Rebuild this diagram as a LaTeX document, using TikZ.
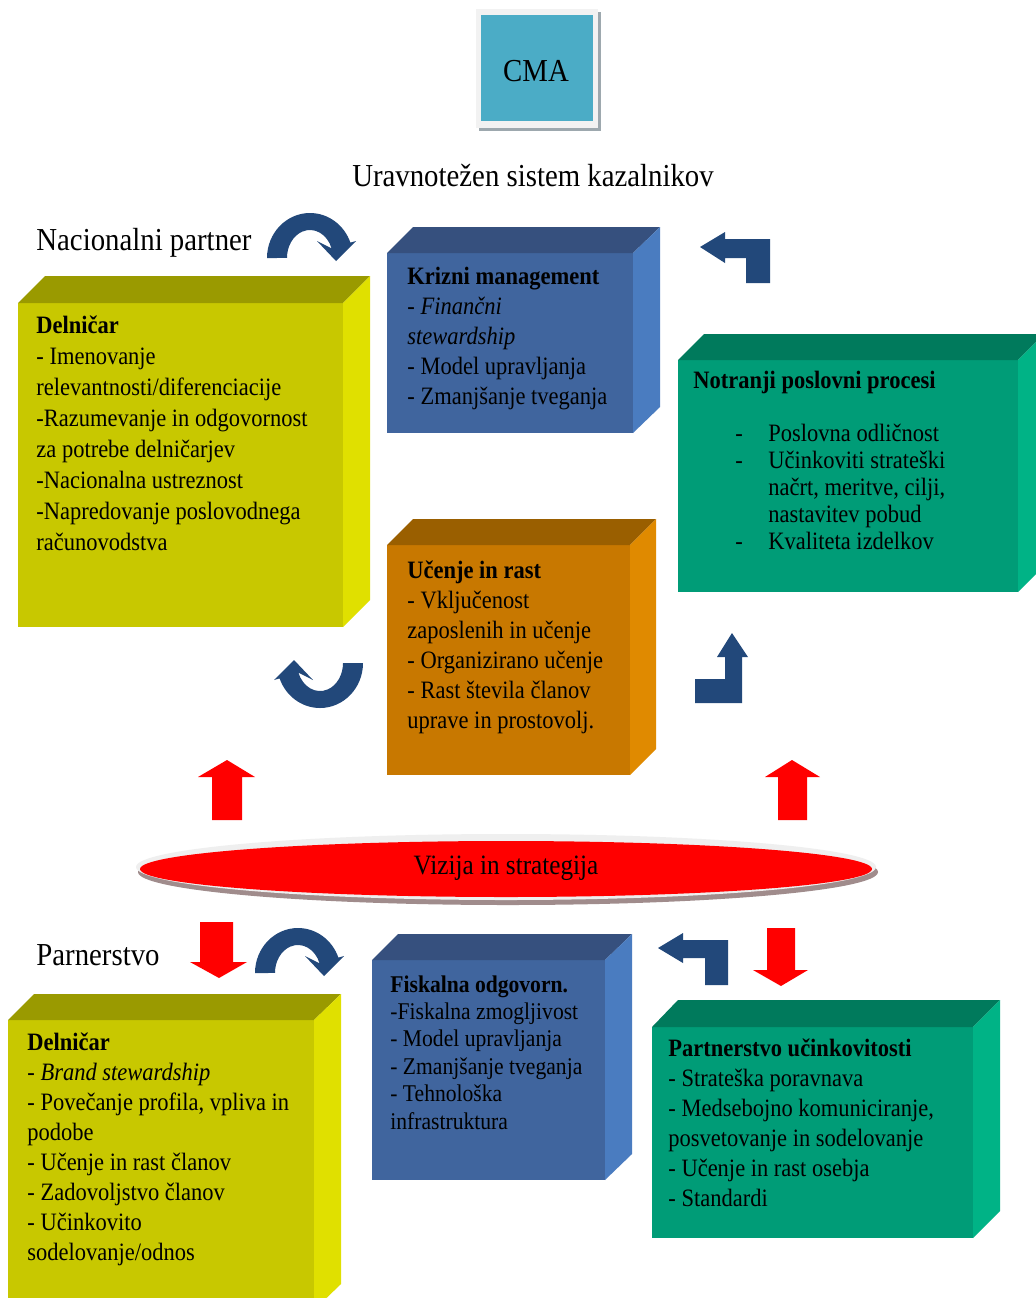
\documentclass[tikz,border=0pt]{standalone}
\usepackage{fontspec}
\setmainfont{Liberation Serif}[FakeStretch=0.9]
\usepackage{xcolor}

\definecolor{yfront}{HTML}{C8C800}
\definecolor{ytop}{HTML}{9A9A00}
\definecolor{yside}{HTML}{E0E000}
\definecolor{bfront}{HTML}{40659E}
\definecolor{btop}{HTML}{36507E}
\definecolor{bside}{HTML}{4A7CC0}
\definecolor{gfront}{HTML}{009C77}
\definecolor{gtop}{HTML}{007A5C}
\definecolor{gside}{HTML}{00B386}
\definecolor{ofront}{HTML}{C87800}
\definecolor{otop}{HTML}{9A5F00}
\definecolor{oside}{HTML}{E08A00}
\definecolor{cmablue}{HTML}{4BACC6}
\definecolor{cmaframe}{HTML}{F2F2F2}
\definecolor{cmashadow}{HTML}{9DA8AE}
\definecolor{visionred}{HTML}{FF0000}
\definecolor{ovalrim}{HTML}{EFEFEF}
\definecolor{ovalshadow}{HTML}{A08C8C}
\definecolor{arrowblue}{HTML}{22487A}

\tikzset{
  uturn/.pic={
    \fill[arrowblue] (-43,0) arc[start angle=180, end angle=340, x radius=43, y radius=45]
      -- (46,-17) -- (26,3) -- (7,-17) -- (21.6,-9.6)
      arc[start angle=340, end angle=180, x radius=23, y radius=28] -- cycle;
  }
}

\begin{document}
\begin{tikzpicture}[x=0.5pt,y=-0.5pt,
    boxtext/.style={anchor=north west, inner sep=0pt, align=left,
      font=\fontsize{12.5}{15.5}\selectfont},
    sidetext/.style={inner sep=0pt, font=\fontsize{16}{19}\selectfont},
    redarrow/.style={fill=visionred}]
        \useasboundingbox (0,0) rectangle (1036,1298);
        \clip (0,0) rectangle (1036,1298);
        \fill[white] (0,0) rectangle (1036,1298);

        % CMA
        \fill[cmashadow] (479,12) rectangle (601,131);
        \fill[cmaframe] (476,9) rectangle (598,128);
        \fill[cmablue] (481,15) rectangle (593,121);
        \node[sidetext] (cma) at (536,71) {CMA};

        % Title
        \node[sidetext] (scorecard) at (533,176) {Uravnotežen sistem kazalnikov};

        % Nacionalni partner
        \node[sidetext, anchor=west] (national) at (36,243) {Nacionalni partner};
        \pic at (310,258) {uturn};

        % Delnicar (top)
        \fill[yfront] (18,303) rectangle (343,627);
        \fill[ytop] (18,303) -- (45,276) -- (370,276) -- (343,303) -- cycle;
        \fill[yside] (343,303) -- (370,276) -- (370,600) -- (343,627) -- cycle;
        \node[boxtext] (holdertop) at (36,315) {\textbf{Delničar}\\- Imenovanje\\relevantnosti/diferenciacije\\-Razumevanje in odgovornost\\za potrebe delničarjev\\-Nacionalna ustreznost\\-Napredovanje poslovodnega\\računovodstva};

        % Krizni management
        \fill[bfront] (387,253) rectangle (633,433);
        \fill[btop] (387,253) -- (413,227) -- (660,227) -- (633,253) -- cycle;
        \fill[bside] (633,253) -- (660,227) -- (660,407) -- (633,433) -- cycle;
        \node[boxtext, font=\fontsize{12.5}{15}\selectfont] (crisis) at (407,267) {\textbf{Krizni management}\\- \textit{Finančni}\\\textit{stewardship}\\- Model upravljanja\\- Zmanjšanje tveganja};

        % Bent arrow (top right)
        \fill[arrowblue] (700,247) -- (725,232) -- (725,239) -- (770,239) -- (770,283)
          -- (746,283) -- (746,258) -- (725,258) -- (725,263) -- cycle;

        % Notranji poslovni procesi
        \fill[gfront] (678,360) rectangle (1018,592);
        \fill[gtop] (678,360) -- (704,334) -- (1044,334) -- (1018,360) -- cycle;
        \fill[gside] (1018,360) -- (1044,334) -- (1044,566) -- (1018,592) -- cycle;
        \node[boxtext] (internal) at (693,371) {\textbf{Notranji poslovni procesi}};
        \node[boxtext, font=\fontsize{12.5}{13.5}\selectfont] (internallist) at (735,424)
          {\makebox[16.5pt][l]{-}Poslovna odličnost\\\makebox[16.5pt][l]{-}Učinkoviti strateški\\\hspace*{16.5pt}načrt, meritve, cilji,\\\hspace*{16.5pt}nastavitev pobud\\\makebox[16.5pt][l]{-}Kvaliteta izdelkov};

        % Ucenje in rast
        \fill[ofront] (387,545) rectangle (630,775);
        \fill[otop] (387,545) -- (413,519) -- (656,519) -- (630,545) -- cycle;
        \fill[oside] (630,545) -- (656,519) -- (656,749) -- (630,775) -- cycle;
        \node[boxtext, font=\fontsize{12.5}{15}\selectfont] (learning) at (407,560) {\textbf{Učenje in rast}\\- Vključenost\\zaposlenih in učenje\\- Organizirano učenje\\- Rast števila članov\\uprave in prostovolj.};

        % Middle arrows
        \pic[rotate=180] at (320,663) {uturn};
        \fill[arrowblue] (732,633) -- (748,657) -- (742,657) -- (742,703) -- (695,703)
          -- (695,679) -- (725,679) -- (725,657) -- (717,657) -- cycle;

        % Red arrows up
        \fill[redarrow] (227,760) -- (255,777) -- (242,777) -- (242,820) -- (212,820) -- (212,777) -- (198,777) -- cycle;
        \fill[redarrow] (792,760) -- (820,777) -- (807,777) -- (807,820) -- (778,820) -- (778,777) -- (765,777) -- cycle;

        % Vizija in strategija
        \fill[ovalshadow] (508,872) ellipse[x radius=370, y radius=33];
        \fill[ovalrim] (506,867) ellipse[x radius=370, y radius=33];
        \fill[visionred] (506,869) ellipse[x radius=366, y radius=28];
        \node[inner sep=0pt, font=\fontsize{14}{17}\selectfont] (vision) at (506,868) {Vizija in strategija};

        % Red arrows down
        \fill[redarrow] (200,922) -- (233,922) -- (233,962) -- (247,962) -- (219,978) -- (190,962) -- (200,962) -- cycle;
        \fill[redarrow] (767,928) -- (795,928) -- (795,970) -- (808,970) -- (781,986) -- (753,970) -- (767,970) -- cycle;

        % Parnerstvo
        \node[sidetext, anchor=west] (partnership) at (36,955) {Parnerstvo};
        \pic at (298,973) {uturn};
        \fill[arrowblue] (658,948) -- (683,933) -- (683,940) -- (728,940) -- (728,985)
          -- (705,985) -- (705,958) -- (683,958) -- (683,963) -- cycle;

        % Delnicar (bottom)
        \fill[yfront] (8,1020) rectangle (314,1310);
        \fill[ytop] (8,1020) -- (34,994) -- (341,994) -- (314,1020) -- cycle;
        \fill[yside] (314,1020) -- (341,994) -- (341,1284) -- (314,1310) -- cycle;
        \node[boxtext, font=\fontsize{12.5}{15}\selectfont] (holderbottom) at (27,1032) {\textbf{Delničar}\\- \textit{Brand stewardship}\\- Povečanje profila, vpliva in\\podobe\\- Učenje in rast članov\\- Zadovoljstvo članov\\- Učinkovito\\sodelovanje/odnos};

        % Fiskalna odgovornost
        \fill[bfront] (372,960) rectangle (605,1180);
        \fill[btop] (372,960) -- (398,934) -- (632,934) -- (605,960) -- cycle;
        \fill[bside] (605,960) -- (632,934) -- (632,1154) -- (605,1180) -- cycle;
        \node[boxtext, font=\fontsize{12}{13.7}\selectfont] (fiscal) at (390,975) {\textbf{Fiskalna odgovorn.}\\-Fiskalna zmogljivost\\- Model upravljanja\\- Zmanjšanje tveganja\\- Tehnološka\\infrastruktura};

        % Partnerstvo ucinkovitosti
        \fill[gfront] (652,1027) rectangle (973,1238);
        \fill[gtop] (652,1027) -- (678,1000) -- (1000,1000) -- (973,1027) -- cycle;
        \fill[gside] (973,1027) -- (1000,1000) -- (1000,1211) -- (973,1238) -- cycle;
        \node[boxtext, font=\fontsize{12.5}{15}\selectfont] (performance) at (668,1038) {\textbf{Partnerstvo učinkovitosti}\\- Strateška poravnava\\- Medsebojno komuniciranje,\\posvetovanje in sodelovanje\\- Učenje in rast osebja\\- Standardi};
    \end{tikzpicture}
\end{document}
